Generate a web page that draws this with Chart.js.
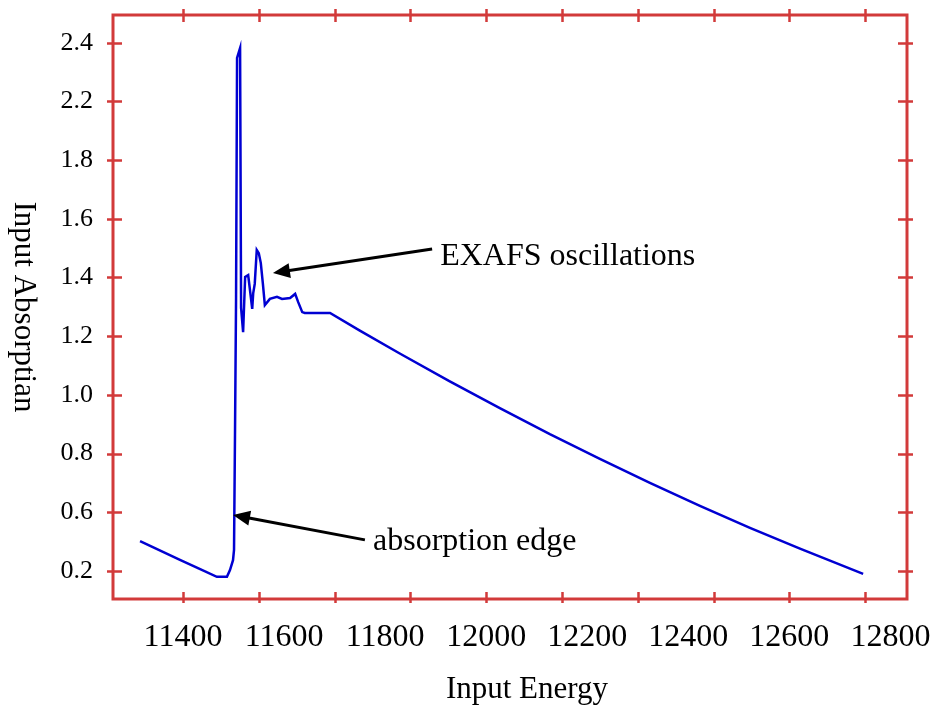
<!DOCTYPE html>
<html>
<head>
<meta charset="utf-8">
<script src="https://cdn.jsdelivr.net/npm/chart.js@4/dist/chart.umd.min.js"></script>
<style>
  html, body { margin: 0; padding: 0; background: #ffffff; }
  #wrap { width: 934px; height: 705px; }
</style>
</head>
<body>
<div id="wrap"><canvas id="c" width="934" height="705"></canvas></div>
<script>
// ---- data ----
const energy = [11315, 11354, 11394, 11434, 11467, 11487, 11493, 11499, 11501, 11503,
                11505, 11507, 11513, 11515, 11519, 11523, 11529, 11533, 11537, 11539,
                11542, 11546, 11550, 11554, 11558, 11562, 11572, 11586, 11596, 11612,
                11622, 11628, 11636, 11641, 11691, 11750, 11829, 11928, 12027, 12126,
                12225, 12324, 12423, 12522, 12621, 12746];
const absorption = [0.502, 0.470, 0.438, 0.406, 0.380, 0.380, 0.403, 0.437, 0.472, 0.880,
                    1.323, 2.148, 2.182, 1.296, 1.214, 1.402, 1.408, 1.351, 1.293, 1.347,
                    1.378, 1.494, 1.483, 1.449, 1.381, 1.306, 1.327, 1.334, 1.327, 1.330,
                    1.344, 1.316, 1.282, 1.279, 1.279, 1.219, 1.141, 1.046, 0.955, 0.866,
                    0.782, 0.700, 0.622, 0.547, 0.476, 0.390];

const xLabelValues = [11400, 11600, 11800, 12000, 12200, 12400, 12600, 12800];
const xMarkValues  = [11400, 11550, 11700, 11850, 12000, 12150, 12300, 12450, 12600, 12750];
const yTickValues  = [0.4, 0.6, 0.8, 1.0, 1.2, 1.4, 1.6, 1.8, 2.0, 2.2];
const yTickLabels  = ['0.2', '0.6', '0.8', '1.0', '1.2', '1.4', '1.6', '1.8', '2.2', '2.4'];

const xTitle = 'Input Energy';
const yTitle = 'Input Absorptian';
const annotations = [
  { text: 'EXAFS oscillations', tx: 11909, ty: 1.443, tipX: 11578, tipY: 1.415, tailX: 11893, tailY: 1.497 },
  { text: 'absorption edge',    tx: 11776, ty: 0.472, tipX: 11499, tipY: 0.591, tailX: 11760, tailY: 0.506 }
];

// ---- styles ----
const FRAME = '#d23a3a';
const LINE = '#0000d2';
const FONT = 'Liberation Serif';

function zeroPad(s) {
  s.paddingLeft = 0; s.paddingRight = 0; s.paddingTop = 0; s.paddingBottom = 0;
}

const framePlugin = {
  id: 'framePlugin',
  afterDraw(chart) {
    const ctx = chart.ctx;
    const a = chart.chartArea;
    const xs = chart.scales.x, ys = chart.scales.y;
    ctx.save();
    // frame
    ctx.strokeStyle = FRAME;
    ctx.lineWidth = 3;
    ctx.strokeRect(a.left, a.top, a.right - a.left, a.bottom - a.top);
    // tick marks
    ctx.lineWidth = 2.5;
    ctx.beginPath();
    xMarkValues.forEach(v => {
      const px = Math.round(xs.getPixelForValue(v)) + 0.5;
      ctx.moveTo(px, a.bottom + 4); ctx.lineTo(px, a.bottom - 7);
      ctx.moveTo(px, a.top - 6); ctx.lineTo(px, a.top + 7);
    });
    yTickValues.forEach(v => {
      const py = Math.round(ys.getPixelForValue(v)) + 0.5;
      ctx.moveTo(a.left - 6, py); ctx.lineTo(a.left + 9, py);
      ctx.moveTo(a.right - 9, py); ctx.lineTo(a.right + 6, py);
    });
    ctx.stroke();

    // axis titles
    ctx.fillStyle = '#000';
    ctx.font = '31px "' + FONT + '"';
    ctx.textAlign = 'center';
    ctx.textBaseline = 'alphabetic';
    ctx.fillText(xTitle, (a.left + a.right) / 2 + 17, 698);
    ctx.save();
    ctx.translate(15, (a.top + a.bottom) / 2);
    ctx.rotate(Math.PI / 2);
    ctx.fillText(yTitle, 0, 0);
    ctx.restore();

    // annotations
    ctx.font = '32px "' + FONT + '"';
    annotations.forEach(an => {
      const tipx = xs.getPixelForValue(an.tipX), tipy = ys.getPixelForValue(an.tipY);
      const tx = xs.getPixelForValue(an.tailX), ty = ys.getPixelForValue(an.tailY);
      const ang = Math.atan2(ty - tipy, tx - tipx);
      const L = 17, W = 7.5;
      const bx = tipx + Math.cos(ang) * L, by = tipy + Math.sin(ang) * L;
      ctx.strokeStyle = '#000';
      ctx.lineWidth = 3;
      ctx.beginPath();
      ctx.moveTo(bx - Math.cos(ang) * 2, by - Math.sin(ang) * 2);
      ctx.lineTo(tx, ty);
      ctx.stroke();
      ctx.fillStyle = '#000';
      ctx.beginPath();
      ctx.moveTo(tipx, tipy);
      ctx.lineTo(bx - Math.sin(ang) * W, by + Math.cos(ang) * W);
      ctx.lineTo(bx + Math.sin(ang) * W, by - Math.cos(ang) * W);
      ctx.closePath();
      ctx.fill();
      ctx.textAlign = 'left';
      ctx.fillText(an.text, xs.getPixelForValue(an.tx), ys.getPixelForValue(an.ty));
    });
    ctx.restore();
  }
};

const points = energy.map((e, i) => ({ x: e, y: absorption[i] }));

new Chart(document.getElementById('c'), {
  type: 'scatter',
  data: {
    datasets: [{
      data: points,
      showLine: true,
      borderColor: LINE,
      backgroundColor: LINE,
      borderWidth: 2.5,
      pointRadius: 0,
      tension: 0
    }]
  },
  options: {
    responsive: false,
    devicePixelRatio: 1,
    animation: false,
    layout: { padding: { left: 0, top: 15, right: 27, bottom: 0 } },
    plugins: { legend: { display: false }, tooltip: { enabled: false } },
    scales: {
      x: {
        type: 'linear',
        min: 11261.5,
        max: 12832.8,
        grid: { display: false, drawTicks: false },
        border: { display: false },
        afterBuildTicks: s => { s.ticks = xLabelValues.map(v => ({ value: v })); },
        afterFit: s => { s.height = 106; zeroPad(s); },
        ticks: {
          autoSkip: false,
          maxRotation: 0,
          padding: 19,
          color: '#000',
          font: { family: FONT, size: 32 },
          callback: v => String(v)
        }
      },
      y: {
        type: 'linear',
        min: 0.3046,
        max: 2.2943,
        grid: { display: false, drawTicks: false },
        border: { display: false },
        afterBuildTicks: s => { s.ticks = yTickValues.map(v => ({ value: v })); },
        afterFit: s => { s.width = 113; zeroPad(s); },
        ticks: {
          autoSkip: false,
          padding: 20,
          color: '#000',
          font: { family: FONT, size: 26 },
          callback: (v, i) => yTickLabels[i]
        }
      }
    }
  },
  plugins: [framePlugin]
});
</script>
</body>
</html>
